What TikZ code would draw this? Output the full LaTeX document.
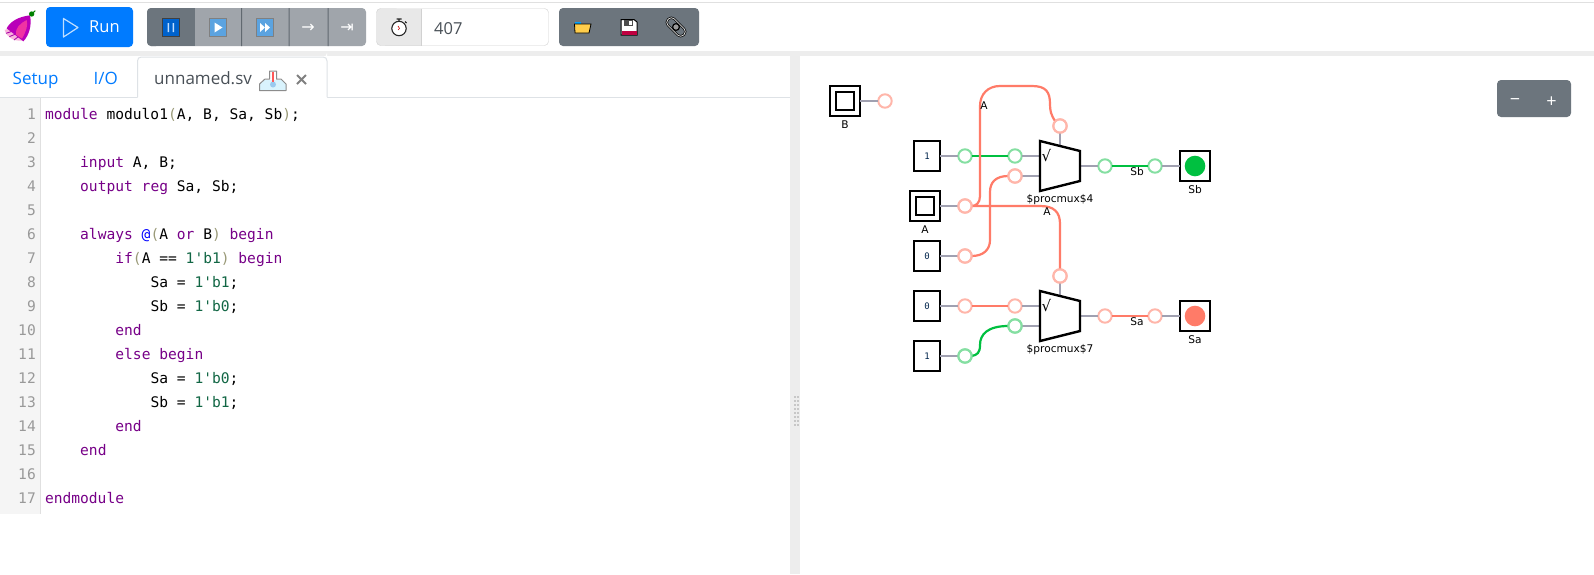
\documentclass[tikz,border=0pt]{standalone}
\usepackage{fontspec}
\setmainfont{Open Sans}
\newfontfamily\codefont{DejaVu Sans Mono}
\newfontfamily\labfont{DejaVu Sans}
\definecolor{kw}{HTML}{770088}
\definecolor{num}{HTML}{116644}
\definecolor{par}{HTML}{999977}
\definecolor{atc}{HTML}{0000FF}
\definecolor{ln}{HTML}{999999}
\definecolor{blue}{HTML}{007BFF}
\definecolor{btn}{HTML}{6C757D}
\definecolor{btnl}{HTML}{A0A5AB}
\definecolor{txt}{HTML}{495057}
\definecolor{bord}{HTML}{DEE2E6}
\definecolor{wg}{HTML}{00C040}
\definecolor{wr}{HTML}{FF7B68}
\definecolor{cg}{HTML}{85DFA2}
\definecolor{cr}{HTML}{FFB6AA}
\definecolor{wn}{HTML}{A0A0B0}
\definecolor{icb}{HTML}{5BA3E0}
\newcommand{\kw}[1]{\textcolor{kw}{#1}}
\newcommand{\nm}[1]{\textcolor{num}{#1}}
\newcommand{\pr}[1]{\textcolor{par}{#1}}
\newcommand{\codesize}{\fontsize{14.6}{18}\selectfont\codefont}
\tikzset{
 code/.style={anchor=west,inner sep=0pt,outer sep=0pt,font=\codesize,text height=11pt,text depth=3pt},
 lnum/.style={anchor=east,inner sep=0pt,font=\codesize,text=ln,text height=11pt,text depth=3pt},
 ui/.style={inner sep=0pt,font=\fontsize{16}{20}\selectfont},
 tabt/.style={inner sep=0pt,anchor=base west,font=\fontsize{17}{20}\selectfont},
 pin/.style={circle,draw,line width=2pt,fill=white,minimum size=13.4pt,inner sep=0pt,outer sep=0pt},
 ping/.style={pin,draw=cg},
 pinr/.style={pin,draw=cr},
 wireg/.style={line width=2.2pt,wg},
 wirer/.style={line width=2.2pt,wr},
 stub/.style={line width=2pt,wn},
 cbox/.style={draw=black,line width=2.4pt,fill=white,minimum width=26pt,minimum height=30pt,inner sep=0pt,outer sep=0pt,font=\fontsize{9}{10}\selectfont\codefont,text=black!70!blue},
 ibox/.style={draw=black,line width=2.4pt,fill=white,minimum width=30pt,minimum height=30pt,inner sep=0pt,outer sep=0pt},
 iin/.style={draw=black,line width=2.4pt,minimum width=18pt,minimum height=18pt,inner sep=0pt,outer sep=0pt},
 lab/.style={inner sep=0pt,font=\fontsize{10.6}{12}\selectfont\labfont},
 chk/.style={inner sep=0pt,font=\fontsize{15}{16}\selectfont\labfont},
 mux/.style={draw=black,line width=2.4pt,fill=white,line join=miter},
}
\begin{document}
\begin{tikzpicture}[x=1pt,y=-1pt]
\useasboundingbox (0,0) rectangle (1594,574);
\fill[white] (0,0) rectangle (1594,574);
% page chrome
\fill[black!12] (0,2) rectangle (1594,3);
\fill[black!7] (0,51) rectangle (1594,56);
\fill[black!7] (790,56) rectangle (800,574);
\foreach \yy in {397,401,405,409,413,417,421,425}{
 \fill[black!22] (793.7,\yy-1) rectangle +(2.2,2.2);
 \fill[black!22] (796.7,\yy-1) rectangle +(2.2,2.2);
}
% logo
\begin{scope}[x=0.3333pt,y=-0.3333pt]
 \fill[magenta!30] (14,90) -- (48,78) -- (68,122) .. controls (40,124) and (20,112) .. cycle;
 \draw[violet!70!magenta,line width=0.8pt] (18,100) -- (48,90) (28,110) -- (52,100) (42,120) -- (58,108);
 \fill[violet!55!magenta] (90,46) .. controls (55,50) and (30,65) .. (20,85) -- (70,124) .. controls (88,105) and (96,75) .. cycle;
 \fill[magenta!80!white] (80,60) .. controls (60,70) and (45,85) .. (48,104) -- (66,116) .. controls (78,95) and (85,75) .. cycle;
 \fill[green!50!black] (95,42) circle (8);
 \draw[green!50!black,line width=1pt] (95,42) -- (106,32);
\end{scope}
% run button
\fill[blue,rounded corners=4pt] (46,7) rectangle (133,47);
\draw[white!75!blue,line width=1.2pt,line join=round] (63.5,18.5) -- (78,27.5) -- (63.5,37) -- cycle;
\node[ui,text=white,anchor=west,font=\fontsize{16.5}{20}\selectfont] (run) at (89,27) {Run};
% sim buttons
\fill[btnl,rounded corners=4pt] (147,8) rectangle (366,46);
\fill[btn,rounded corners=4pt] (147,8) rectangle (160,46);
\fill[btn] (152,8) rectangle (195,46);
\fill[btn!90!black] (241,8) rectangle (242,46) (288.5,8) rectangle (289.5,46) (327.5,8) rectangle (328.5,46);
\draw[black!75,line width=1pt,fill=blue!80!black] (162.5,18.5) rectangle (179.5,36.5);
\fill[white!75!blue] (167.5,23) rectangle (169,32) (172.5,23) rectangle (174,32);
\draw[black!50,line width=1pt,fill=icb] (209.5,18.5) rectangle (226.5,36.5);
\fill[white] (214.5,22.5) -- (222.5,27.5) -- (214.5,32.5) -- cycle;
\draw[black!50,line width=1pt,fill=icb] (256.5,18.5) rectangle (273.5,36.5);
\fill[white] (260,23) -- (265,27.5) -- (260,32) -- cycle (265,23) -- (270,27.5) -- (265,32) -- cycle;
\node[inner sep=0pt,text=white,font=\fontsize{16}{18}\selectfont\labfont] (stepa) at (308,28) {→};
\node[inner sep=0pt,text=white,font=\fontsize{16}{18}\selectfont\labfont] (stepb) at (347,28) {⇥};
% tick input
\fill[white,rounded corners=4pt] (376.5,8.5) rectangle (548.5,45.5);
\fill[black!9,rounded corners=4pt] (376.5,8.5) rectangle (400,45.5);
\fill[black!9] (385,8.5) rectangle (421.5,45.5);
\draw[black!18,rounded corners=4pt] (376.5,8.5) rectangle (548.5,45.5);
\draw[black!18] (421.5,8.5) -- (421.5,45.5);
\draw[black!85,line width=1.1pt,fill=white] (399,28.5) circle (7.2);
\draw[black!85,line width=1.1pt] (396.5,19) -- (401.5,19) (399,19) -- (399,21) (405,21.5) -- (406.5,23);
\draw[red!80!black,line width=.6pt] (398,26) -- (399.5,28.5) -- (398,30);
\node[ui,text=txt,anchor=west,font=\fontsize{16.5}{20}\selectfont] (tick) at (434,28.5) {407};
% file buttons
\fill[btn,rounded corners=4pt] (559,8) rectangle (699,46);
\fill[blue!70!cyan] (574.5,22) rectangle (581,25);
\draw[black,line width=.8pt,fill=orange!55!yellow!70] (574.5,24) -- (591,24) -- (589,33) -- (575,33) -- cycle;
\draw[black,line width=1pt,fill=white] (621,19.5) -- (634,19.5) -- (637,22) -- (637,35) -- (621,35) -- cycle;
\fill[black!70] (624,20) rectangle (633,26);
\fill[white] (629,21) rectangle (631.5,25);
\fill[purple] (621.5,31) rectangle (636.5,34.5);
\begin{scope}[shift={(676,27)},rotate=-45]
 \draw[black,line width=2.2pt,rounded corners=4pt] (-11,-4.5) rectangle (11,4.5);
 \draw[white!85!black,line width=.8pt,rounded corners=4pt] (-11,-4.5) rectangle (11,4.5);
 \draw[black,line width=1.2pt,fill=white!60!black] (0,0) circle (3.4);
\end{scope}
% tabs
\fill[bord] (0,96.7) rectangle (790,97.7);
\fill[white] (137.5,97.8) -- (137.5,61) arc[start angle=180,end angle=270,radius=4pt] -- (323,57) arc[start angle=270,end angle=360,radius=4pt] -- (327,97.8) -- cycle;
\draw[bord,line width=1pt] (137.5,97) -- (137.5,61) .. controls (137.5,58.5) and (139,57) .. (141.5,57) -- (323,57) .. controls (325.5,57) and (327,58.5) .. (327,61) -- (327,97);
\node[tabt,text=blue] (setup) at (12.5,84) {Setup};
\node[tabt,text=blue] (io) at (93.5,84) {I/O};
\node[tabt,text=txt] (tabname) at (154,84) {unnamed.sv};
\fill[cyan!15] (260,84) -- (264,80) -- (282,80) -- (286,84) -- (286,90) -- (260,90) -- cycle;
\draw[black!45,line width=1pt,line join=round] (259.5,90.5) -- (259.5,84) -- (265,79) -- (269.5,79) -- (269.5,71) -- (276.5,71) -- (276.5,79) -- (281,79) -- (286,84) -- (286,90.5) -- cycle;
\fill[cyan!50!blue!40] (273,84.5) circle (3);
\draw[red!65!white,line width=1.2pt] (273,72) -- (273,82);
\draw[black!50,line width=2pt] (297,75) -- (306,84) (306,75) -- (297,84);
% code
\fill[black!4] (0,98) rectangle (40,514);
\fill[black!12] (40,98) rectangle (41,514);
\foreach \n in {1,...,17}{
 \node[lnum] (ln\n) at (36,{115.5+24*(\n-1)}) {\n};
}
\node[code] (c1) at (45,115.5) {\kw{module} modulo1\pr{(}A, B, Sa, Sb\pr{)};};
\node[code] (c3) at (80.2,163.5) {\kw{input} A, B;};
\node[code] (c4) at (80.2,187.5) {\kw{output} \kw{reg} Sa, Sb;};
\node[code] (c6) at (80.2,235.5) {\kw{always} \textcolor{atc}{@}\pr{(}A \kw{or} B\pr{)} \kw{begin}};
\node[code] (c7) at (115.4,259.5) {\kw{if}\pr{(}A == \nm{1'b1}\pr{)} \kw{begin}};
\node[code] (c8) at (150.6,283.5) {Sa = \nm{1'b1};};
\node[code] (c9) at (150.6,307.5) {Sb = \nm{1'b0};};
\node[code] (c10) at (115.4,331.5) {\kw{end}};
\node[code] (c11) at (115.4,355.5) {\kw{else} \kw{begin}};
\node[code] (c12) at (150.6,379.5) {Sa = \nm{1'b0};};
\node[code] (c13) at (150.6,403.5) {Sb = \nm{1'b1};};
\node[code] (c14) at (115.4,427.5) {\kw{end}};
\node[code] (c15) at (80.2,451.5) {\kw{end}};
\node[code] (c17) at (45,499.5) {\kw{endmodule}};
% zoom buttons
\fill[btn,rounded corners=4pt] (1497,80) rectangle (1571,117);
\node[ui,text=white,font=\fontsize{18}{20}\selectfont] (zm) at (1515,102) {−};
\node[ui,text=white,font=\fontsize{18}{20}\selectfont] (zp) at (1551.5,102) {+};
% diagram nodes
\node[ibox] (B) at (845,101) {};
\node[iin] (Bi) at (845,101) {};
\node[pinr] (pB) at (885,101) {};
\node[lab] (lB) at (845,124.5) {B};
\node[cbox] (k1) at (927,156) {1};
\node[ping] (p1a) at (965,156) {};
\node[ping] (p1b) at (1015,156) {};
\node[ibox] (A) at (925,206) {};
\node[iin] (Ai) at (925,206) {};
\node[pinr] (pA) at (965,206) {};
\node[lab] (lA) at (925,229.5) {A};
\node[cbox] (k0) at (927,256) {0};
\node[pinr] (p0a) at (965,256) {};
\node[pinr] (p0b) at (1015,176) {};
\node[pinr] (s4) at (1060,126) {};
\node[pinr] (s7) at (1060,276) {};
\node[cbox] (k2) at (927,306) {0};
\node[pinr] (p2a) at (965,306) {};
\node[pinr] (p2b) at (1015,306) {};
\node[cbox] (k3) at (927,356) {1};
\node[ping] (p3a) at (965,356) {};
\node[ping] (p3b) at (1015,326) {};
\node[ping] (o4a) at (1105,166) {};
\node[ping] (o4b) at (1155,166) {};
\node[pinr] (o7a) at (1105,316) {};
\node[pinr] (o7b) at (1155,316) {};
\node[ibox] (Sb) at (1195,166) {};
\node[ibox] (Sa) at (1195,316) {};
% coordinates on mux edges
\coordinate (m4a) at (1040,156);
\coordinate (m4b) at (1040,176);
\coordinate (m4s) at (1060,146);
\coordinate (m4o) at (1080,166);
\coordinate (m7a) at (1040,306);
\coordinate (m7b) at (1040,326);
\coordinate (m7s) at (1060,296);
\coordinate (m7o) at (1080,316);
% stubs
\draw[stub] (B) -- (pB) (k1) -- (p1a) (A) -- (pA) (k0) -- (p0a) (k2) -- (p2a) (k3) -- (p3a);
\draw[stub] (p1b) -- (m4a) (p0b) -- (m4b) (s4) -- (m4s) (m4o) -- (o4a) (o4b) -- (Sb);
\draw[stub] (p2b) -- (m7a) (p3b) -- (m7b) (s7) -- (m7s) (m7o) -- (o7a) (o7b) -- (Sa);
% wires
\draw[wireg] (p1a) -- (p1b);
\draw[wireg] (o4a) -- (o4b);
\draw[wirer] (p2a) -- (p2b);
\draw[wirer] (o7a) -- (o7b);
\draw[wirer] (pA.east) .. controls (976,206) and (980,203) .. (980,196) -- (980,106) .. controls (980,94) and (988,86) .. (1000,86) -- (1032,86) .. controls (1046,86) and (1050,92) .. (1050,104) .. controls (1050,111) and (1051,115) .. (s4.north west);
\draw[wirer] (pA.east) -- (1040,206) .. controls (1054,206) and (1060,212) .. (1060,224) -- (s7.north);
\draw[wirer] (p0a.east) .. controls (983,256) and (990,250) .. (990,240) -- (990,192) .. controls (990,182) and (996,176) .. (p0b.west);
\draw[wireg] (p3a.east) .. controls (977,355) and (980,353) .. (980,345) .. controls (980,334) and (988,326) .. (p3b.west);
% circles again on top of wires
\foreach \p/\c in {pA/cr,s4/cr,s7/cr,p0a/cr,p0b/cr,p3a/cg,p3b/cg}{\draw[\c,line width=2pt] (\p) circle (6.7);}
% muxes
\draw[mux] (1040,141) -- (1080,151) -- (1080,181) -- (1040,191) -- cycle;
\draw[mux] (1040,291) -- (1080,301) -- (1080,331) -- (1040,341) -- cycle;
\node[chk] (t4) at (1046.5,156) {√};
\node[chk] (t7) at (1046.5,306) {√};
\fill[wg] (1195,166) circle (10.3);
\fill[wr] (1195,316) circle (10.3);
% labels
\node[lab] (l4) at (1060,200) {\$procmux\$4};
\node[lab] (l7) at (1060,350) {\$procmux\$7};
\node[lab] (lSb) at (1195,190) {Sb};
\node[lab] (lSa) at (1195,340) {Sa};
\node[lab] (wSb) at (1137,172) {Sb};
\node[lab] (wSa) at (1137,322) {Sa};
\node[lab] (wA1) at (984,106) {A};
\node[lab] (wA2) at (1047,212) {A};
\end{tikzpicture}
\end{document}
